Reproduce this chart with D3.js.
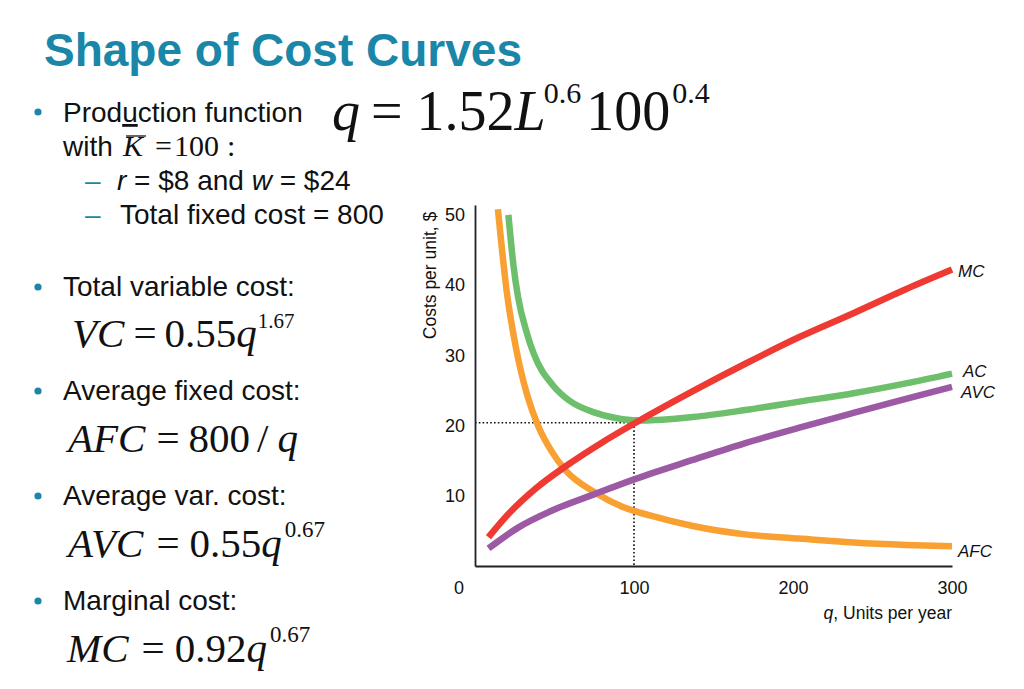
<!DOCTYPE html>
<html>
<head>
<meta charset="utf-8">
<script src="https://cdn.jsdelivr.net/npm/d3@7"></script>
<style>
  html, body { margin: 0; padding: 0; background: #ffffff; }
  svg { display: block; }
</style>
</head>
<body>
<svg id="chart" width="1024" height="689"></svg>
<script>
// ---------------- DATA ----------------
const seriesNames = ["AFC", "AC", "AVC", "MC"];

const afcQ = [14.4, 17, 20, 24, 28, 33, 40, 48, 57, 76, 93, 110, 137, 170, 204, 238, 271, 300];
const afcV = [50.8, 45, 39, 33.2, 28.6, 24.2, 19.8, 16.4, 13.6, 10.4, 8.4, 7.2, 5.7, 4.5, 3.9, 3.35, 3.0, 2.8];

const acQ = [21, 24.3, 27, 32.7, 37, 49.5, 59, 76, 93, 105, 137, 170, 204, 238, 271, 300];
const acV = [50.0, 42.6, 38.4, 33.1, 30.2, 25.6, 23.6, 21.8, 20.9, 20.7, 21.2, 22.2, 23.4, 24.6, 26.0, 27.4];

const avcQ = [8.5, 27.4, 48.5, 76, 101, 137, 170, 204, 238, 271, 300];
const avcV = [2.5, 5.5, 7.9, 10.3, 12.4, 15.1, 17.5, 19.7, 21.8, 23.8, 25.5];

const mcQ = [8.5, 21, 38, 57, 80, 101, 137, 170, 204, 238, 271, 300];
const mcV = [4.1, 7.4, 11.0, 14.2, 17.6, 20.4, 24.9, 28.8, 32.6, 36.0, 39.4, 42.2];

const xTicks = [100, 200, 300];
const yTicks = [10, 20, 30, 40, 50];
const guideQ = [100];     // output at min AC
const guideV = [20.4];    // min AC level

// ---------------- STYLE ----------------
const colors = { AFC: "#F8A132", AC: "#6DBF6B", AVC: "#9C5AA4", MC: "#EE3A33" };
const labelOffset = { AFC: [6, 11], AC: [11, 3.5], AVC: [9, 11], MC: [6, 7.5] };
const teal = "#1A86A8";
const sans = "'Liberation Sans', Arial, Helvetica, sans-serif";
const serif = "'Liberation Serif', 'Times New Roman', Times, serif";

const svg = d3.select("#chart");

// ---------------- TITLE & TEXT ----------------
svg.append("text")
  .attr("x", 44).attr("y", 66)
  .attr("font-family", sans).attr("font-weight", "bold")
  .attr("font-size", 46).attr("fill", teal)
  .text("Shape of Cost Curves");

function bullet(x, y) {
  svg.append("circle").attr("cx", x).attr("cy", y).attr("r", 3.6).attr("fill", teal);
}
function dash(x, y) {
  svg.append("text").attr("x", x).attr("y", y)
    .attr("font-family", sans).attr("font-size", 28).attr("fill", teal).text("\u2013");
}
function plain(x, y, str) {
  return svg.append("text").attr("x", x).attr("y", y)
    .attr("font-family", sans).attr("font-size", 28).attr("fill", "#111").text(str);
}
// formula: parts = [{t, it, sup, dx}]
function formula(x, y, size, supSize, supRaise, parts) {
  const t = svg.append("text").attr("x", x).attr("y", y)
    .attr("font-family", serif).attr("font-size", size).attr("fill", "#111");
  let raised = false;
  parts.forEach(p => {
    const s = t.append("tspan").text(p.t);
    if (p.it) s.attr("font-style", "italic");
    if (p.dx) s.attr("dx", p.dx);
    if (p.sup && !raised) { s.attr("dy", -supRaise).attr("font-size", supSize); raised = true; }
    else if (p.sup) { s.attr("font-size", supSize); }
    else if (!p.sup && raised) { s.attr("dy", supRaise); raised = false; }
  });
  return t;
}

// Bullet 1
bullet(38, 112);
const pf = svg.append("text").attr("x", 63).attr("y", 122)
  .attr("font-family", sans).attr("font-size", 28).attr("fill", "#111");
pf.append("tspan").text("Prod");
pf.append("tspan").attr("text-decoration", "underline").text("u");
pf.append("tspan").text("ction function");

plain(63, 156, "with");
const kText = svg.append("text").attr("x", 123).attr("y", 156)
  .attr("font-family", serif).attr("font-style", "italic")
  .attr("font-size", 30).attr("fill", "#111").text("K");
const kb = kText.node().getBBox();
svg.append("line")
  .attr("x1", kb.x + 4).attr("x2", kb.x + kb.width + 1)
  .attr("y1", 136).attr("y2", 136)
  .attr("stroke", "#111").attr("stroke-width", 1.3);
const eqk = svg.append("text").attr("x", 155).attr("y", 156)
  .attr("font-family", serif).attr("font-size", 30).attr("fill", "#111");
eqk.append("tspan").text("=");
eqk.append("tspan").attr("dx", 2).text("100");
eqk.append("tspan").attr("dx", 8).text(":");

// Big production function
formula(332, 130, 56, 30, 27, [
  { t: "q", it: true },
  { t: "=", dx: 11 },
  { t: "1.52", dx: 14 },
  { t: "L", it: true },
  { t: "0.6", sup: true, dx: -2 },
  { t: "100", dx: 5 },
  { t: "0.4", sup: true, dx: 2 }
]);

// Sub bullets
dash(85, 190);
const rw = svg.append("text").attr("x", 117).attr("y", 190)
  .attr("font-family", sans).attr("font-size", 28).attr("fill", "#111");
rw.append("tspan").attr("font-style", "italic").text("r");
rw.append("tspan").text(" = $8 and ");
rw.append("tspan").attr("font-style", "italic").text("w");
rw.append("tspan").text(" = $24");

dash(85, 224);
plain(120, 224, "Total fixed cost = 800");

// Cost bullets
bullet(38, 287);
plain(63, 296, "Total variable cost:");
formula(72, 347, 41, 21, 19, [
  { t: "VC", it: true },
  { t: "=", dx: 9 },
  { t: "0.55", dx: 8 },
  { t: "q", it: true },
  { t: "1.67", sup: true, dx: 1 }
]);

bullet(38, 391);
plain(63, 400, "Average fixed cost:");
formula(68, 452, 41, 21, 19, [
  { t: "AFC", it: true },
  { t: "=", dx: 11 },
  { t: "800", dx: 9 },
  { t: "/", dx: 7 },
  { t: "q", it: true, dx: 9 }
]);

bullet(38, 496);
plain(63, 505, "Average var. cost:");
formula(68, 557, 41, 23, 20, [
  { t: "AVC", it: true },
  { t: "=", dx: 13 },
  { t: "0.55", dx: 10 },
  { t: "q", it: true },
  { t: "0.67", sup: true, dx: 3 }
]);

bullet(38, 601);
plain(63, 610, "Marginal cost:");
formula(67, 662, 41, 23, 20, [
  { t: "MC", it: true },
  { t: "=", dx: 13 },
  { t: "0.92", dx: 10 },
  { t: "q", it: true },
  { t: "0.67", sup: true, dx: 3 }
]);

// ---------------- CHART ----------------
const x = d3.scaleLinear().domain([0, 300]).range([475, 952]);
const y = d3.scaleLinear().domain([0, 51.4]).range([566, 205]);

const tickFont = 18;

// guide (dotted) lines
const guide = svg.append("g").attr("stroke", "#111").attr("stroke-width", 1.6)
  .attr("stroke-dasharray", "1.6,2.2").attr("fill", "none");
guide.append("line")
  .attr("x1", x(0)).attr("x2", x(guideQ[0]))
  .attr("y1", y(guideV[0])).attr("y2", y(guideV[0]));
guide.append("line")
  .attr("x1", x(guideQ[0])).attr("x2", x(guideQ[0]))
  .attr("y1", y(guideV[0])).attr("y2", y(0));

// axes
const xAxis = svg.append("g").attr("transform", `translate(0,${y(0)})`)
  .call(d3.axisBottom(x).tickValues(xTicks).tickSize(0).tickSizeOuter(0)
    .tickPadding(15).tickFormat(d3.format("d")));
const yAxis = svg.append("g").attr("transform", `translate(${x(0)},0)`)
  .call(d3.axisLeft(y).tickValues(yTicks).tickSize(0).tickSizeOuter(0)
    .tickPadding(10).tickFormat(d3.format("d")));
[xAxis, yAxis].forEach(a => {
  a.attr("font-family", sans).attr("font-size", tickFont);
  a.selectAll("text").attr("fill", "#111");
  a.select(".domain").attr("stroke", "#222").attr("stroke-width", 1.8);
});
// origin label
svg.append("text")
  .attr("x", x(0) - 16).attr("y", y(0) + 15).attr("dy", "0.71em")
  .attr("text-anchor", "middle")
  .attr("font-family", sans).attr("font-size", tickFont).attr("fill", "#111")
  .text("0");

// axis titles
const xt = svg.append("text")
  .attr("x", x(300)).attr("y", 619).attr("text-anchor", "end")
  .attr("font-family", sans).attr("font-size", 17.5).attr("fill", "#111");
xt.append("tspan").attr("font-style", "italic").text("q");
xt.append("tspan").text(", Units per year");

svg.append("text")
  .attr("transform", `translate(436,${(y(0) + y(51.4)) / 2 - 110}) rotate(-90)`)
  .attr("text-anchor", "middle")
  .attr("font-family", sans).attr("font-size", 17.5).attr("fill", "#111")
  .text("Costs per unit, $");

// curves
const series = {
  AFC: afcQ.map((q, i) => [q, afcV[i]]),
  AC: acQ.map((q, i) => [q, acV[i]]),
  AVC: avcQ.map((q, i) => [q, avcV[i]]),
  MC: mcQ.map((q, i) => [q, mcV[i]])
};
const line = d3.line().x(d => x(d[0])).y(d => y(d[1])).curve(d3.curveMonotoneX);

seriesNames.forEach(name => {
  svg.append("path")
    .datum(series[name])
    .attr("d", line)
    .attr("fill", "none")
    .attr("stroke", colors[name])
    .attr("stroke-width", 6.5)
    .attr("stroke-linecap", "butt");
  const last = series[name][series[name].length - 1];
  svg.append("text")
    .attr("x", x(last[0]) + labelOffset[name][0])
    .attr("y", y(last[1]) + labelOffset[name][1])
    .attr("font-family", sans).attr("font-style", "italic")
    .attr("font-size", 17).attr("fill", "#111")
    .text(name);
});
</script>
</body>
</html>
